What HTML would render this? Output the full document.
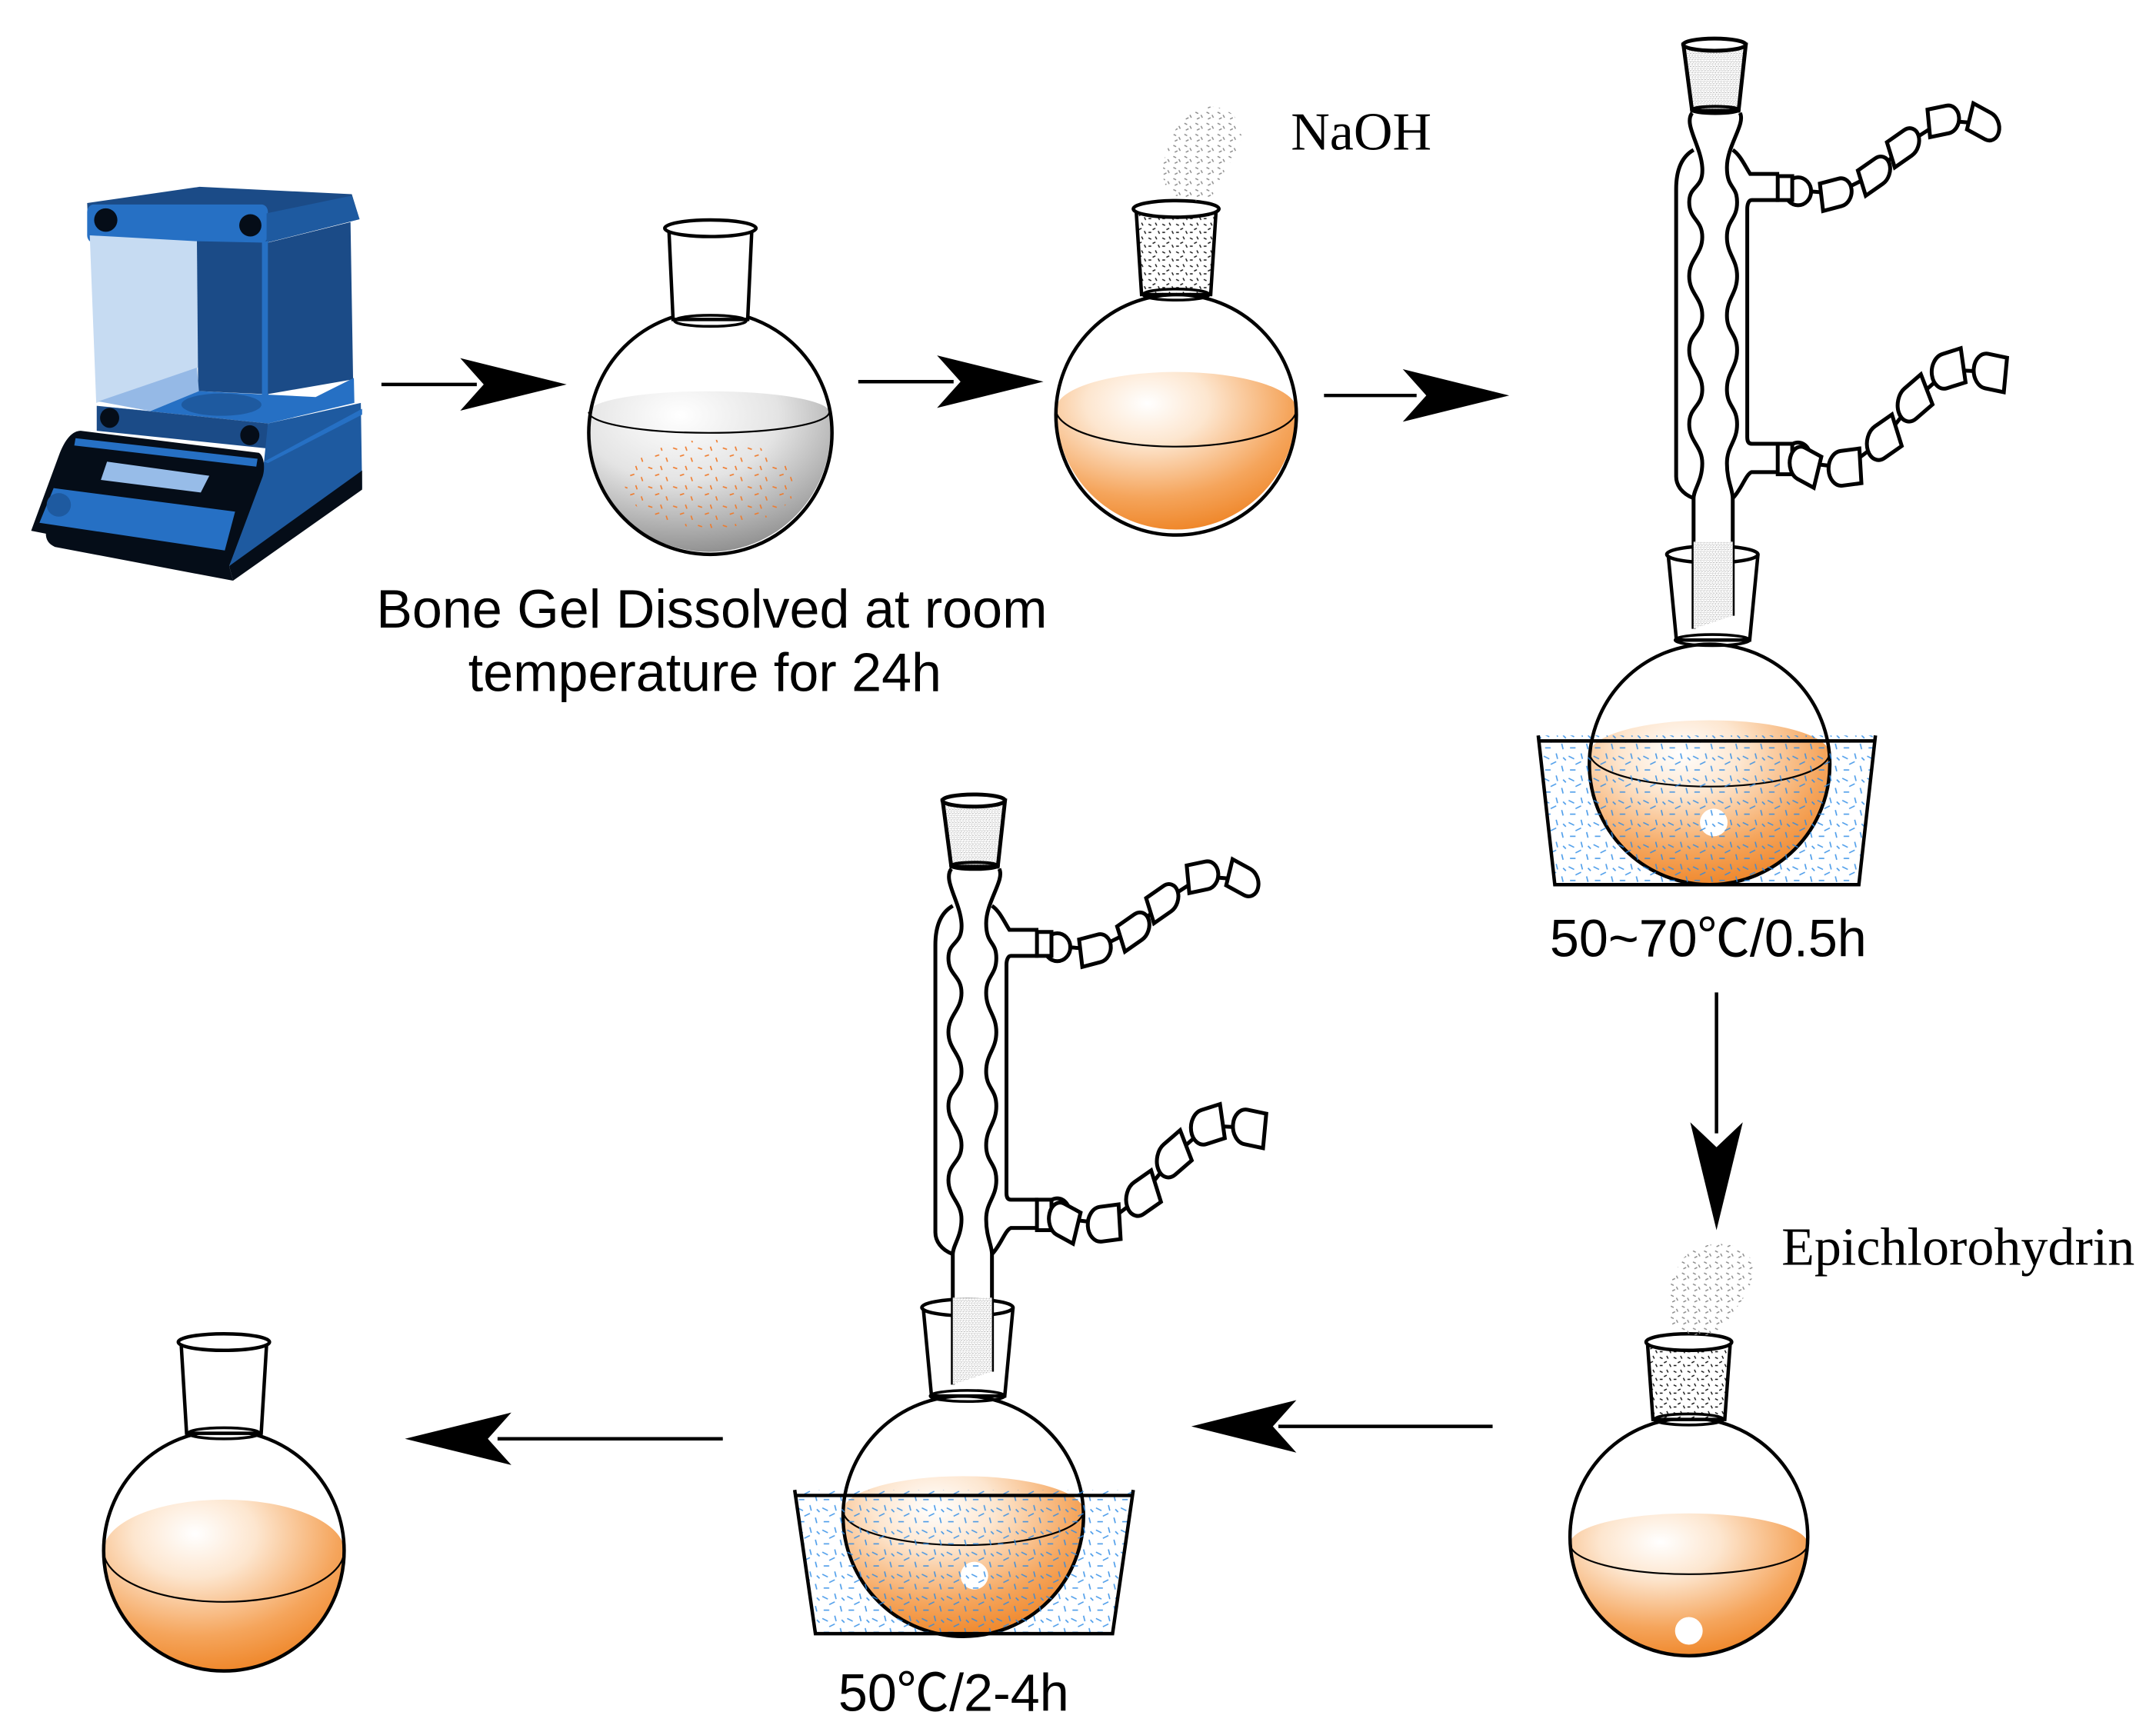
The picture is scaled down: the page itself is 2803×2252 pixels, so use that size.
<!DOCTYPE html>
<html><head><meta charset="utf-8"><style>
html,body{margin:0;padding:0;background:#fff;}
svg{display:block;}
</style></head><body>
<svg width="2803" height="2252" viewBox="0 0 1560 1253" xmlns="http://www.w3.org/2000/svg">
<defs>
<pattern id="cork" width="10" height="10" patternUnits="userSpaceOnUse">
<rect width="10" height="10" fill="#fff"/>
<path d="M1,2 l2,1 M6,1 l1,2 M4,6 l2,-1 M8,7 l1,2 M1,8 l2,0" stroke="#111" stroke-width="0.8"/>
</pattern>
<pattern id="odots" width="18" height="14" patternUnits="userSpaceOnUse">
<path d="M1,2 l3,1 M10,1 l1,3 M6,8 l3,-1 M14,9 l1,3" stroke="#f07a2a" stroke-width="0.9"/>
</pattern>
<pattern id="bdots" width="18" height="16" patternUnits="userSpaceOnUse">
<path d="M1,3 l4,2 M10,1 l1,4 M6,9 l4,-2 M14,10 l1,4 M2,13 l4,0 M15,4 l2,2" stroke="#2b8ae6" stroke-width="0.9"/>
</pattern>
<pattern id="gdots" width="8" height="8" patternUnits="userSpaceOnUse">
<path d="M1,1 l2,1 M5,3 l1,2 M2,6 l2,-1" stroke="#888" stroke-width="0.8"/>
</pattern>
<radialGradient id="og" cx="0.38" cy="0.2" r="0.85">
<stop offset="0" stop-color="#ffffff"/><stop offset="0.3" stop-color="#fde6cf"/>
<stop offset="0.7" stop-color="#f5a55c"/><stop offset="1" stop-color="#ee8222"/>
</radialGradient>
<radialGradient id="gg" cx="0.38" cy="0.15" r="0.9">
<stop offset="0" stop-color="#ffffff"/><stop offset="0.45" stop-color="#e4e4e4"/>
<stop offset="1" stop-color="#8a8a8a"/>
</radialGradient>

<g id="cond" fill="none" stroke="#000">
 <g stroke-width="5">
 <path d="M205,88 L235,240 L395,240 L420,88 Z" fill="url(#cork)" vector-effect="non-scaling-stroke" stroke-width="5"/>
 <ellipse cx="312" cy="88" rx="108" ry="14" fill="#fff" vector-effect="non-scaling-stroke" stroke-width="5"/>
 <ellipse cx="315" cy="238" rx="82" ry="8" vector-effect="non-scaling-stroke" stroke-width="4"/>
 <path d="M235,245 C205,270 265,320 270,370 S225,410 225,450 S270,490 270,530 S225,580 225,620 S270,670 270,710 S225,750 225,790 S270,840 270,880 S225,920 225,960 S270,1010 270,1050 S240,1110 240,1130 L240,1430" vector-effect="non-scaling-stroke" stroke-width="5"/>
 <path d="M400,245 C420,270 355,320 355,370 S390,410 390,450 S355,490 355,530 S390,580 390,620 S355,670 355,710 S390,750 390,790 S355,840 355,880 S390,920 390,960 S355,1010 355,1050 S375,1110 375,1130 L375,1400" vector-effect="non-scaling-stroke" stroke-width="5"/>
 <path d="M240,1230 L375,1230 L375,1400 L240,1430 Z" fill="url(#cork)" stroke="none"/>
 <path d="M240,330 C200,345 180,375 180,420 L180,1080 C180,1100 200,1120 240,1130" vector-effect="non-scaling-stroke" stroke-width="5"/>
 <path d="M375,330 C400,340 420,370 435,385 L535,385" vector-effect="non-scaling-stroke" stroke-width="5"/>
 <path d="M535,445 L440,445 C430,445 425,455 425,465 L425,990 C425,1000 430,1005 440,1005 L535,1005" vector-effect="non-scaling-stroke" stroke-width="5"/>
 <path d="M535,1070 L440,1070 C420,1075 405,1110 375,1130" vector-effect="non-scaling-stroke" stroke-width="5"/>
 <ellipse cx="600" cy="425" rx="45" ry="32" fill="#fff" vector-effect="non-scaling-stroke" stroke-width="5"/>
 <rect x="530" y="390" width="50" height="55" fill="#fff" vector-effect="non-scaling-stroke" stroke-width="5"/>
 <ellipse cx="600" cy="1040" rx="45" ry="38" fill="#fff" vector-effect="non-scaling-stroke" stroke-width="5"/>
 <rect x="530" y="1005" width="50" height="70" fill="#fff" vector-effect="non-scaling-stroke" stroke-width="5"/>
 <polyline points="640,425 730,430 865,385 965,320 1100,262 1240,270" vector-effect="non-scaling-stroke" stroke-width="5"/>
 <polyline points="640,1050 765,1060 895,995 1000,905 1120,835 1265,840" vector-effect="non-scaling-stroke" stroke-width="5"/>
 </g>
 <g fill="#fff" stroke="#000">
 <path transform="translate(730,430) rotate(-10)" d="M-50,-32 L15,-32 A40,32 0 0 1 15,32 L-50,32 Z" vector-effect="non-scaling-stroke" stroke-width="5"/>
 <path transform="translate(865,385) rotate(-25)" d="M-50,-32 L15,-32 A40,32 0 0 1 15,32 L-50,32 Z" vector-effect="non-scaling-stroke" stroke-width="5"/>
 <path transform="translate(965,320) rotate(-25)" d="M-50,-32 L15,-32 A40,32 0 0 1 15,32 L-50,32 Z" vector-effect="non-scaling-stroke" stroke-width="5"/>
 <path transform="translate(1100,262) rotate(-8)" d="M-50,-32 L15,-32 A40,32 0 0 1 15,32 L-50,32 Z" vector-effect="non-scaling-stroke" stroke-width="5"/>
 <path transform="translate(1240,270) rotate(20)" d="M-50,-32 L15,-32 A40,32 0 0 1 15,32 L-50,32 Z" vector-effect="non-scaling-stroke" stroke-width="5"/>
 <path transform="translate(625,1055) rotate(20)" d="M45,-38 L-15,-38 A40,38 0 0 0 -15,38 L45,38 Z" vector-effect="non-scaling-stroke" stroke-width="5"/>
 <path transform="translate(765,1060) rotate(-5)" d="M50,-40 L-15,-40 A45,40 0 0 0 -15,40 L50,40 Z" vector-effect="non-scaling-stroke" stroke-width="5"/>
 <path transform="translate(895,995) rotate(-25)" d="M50,-40 L-15,-40 A45,40 0 0 0 -15,40 L50,40 Z" vector-effect="non-scaling-stroke" stroke-width="5"/>
 <path transform="translate(1000,905) rotate(-30)" d="M50,-40 L-15,-40 A45,40 0 0 0 -15,40 L50,40 Z" vector-effect="non-scaling-stroke" stroke-width="5"/>
 <path transform="translate(1120,835) rotate(-12)" d="M50,-40 L-15,-40 A45,40 0 0 0 -15,40 L50,40 Z" vector-effect="non-scaling-stroke" stroke-width="5"/>
 <path transform="translate(1265,840) rotate(8)" d="M50,-40 L-15,-40 A45,40 0 0 0 -15,40 L50,40 Z" vector-effect="non-scaling-stroke" stroke-width="5"/>
 </g>
</g>
</defs>

<!-- Balance -->
<g transform="translate(0.5,112.7) scale(0.1868,0.2127)">
 <polygon points="335,160 770,105 1360,130 1390,215 1030,295 340,270" fill="#1b4b87"/>
 <rect x="335" y="165" width="700" height="130" rx="25" fill="#2670c4"/>
 <polygon points="1030,195 1360,135 1390,215 1030,295" fill="#1e5aa0"/>
 <polygon points="345,270 760,290 765,720 370,840" fill="#c6dbf2"/>
 <polygon points="760,290 1020,295 1020,810 765,800" fill="#1b4b87"/>
 <rect x="1012" y="290" width="25" height="530" fill="#2670c4"/>
 <polygon points="1035,295 1355,225 1365,760 1035,810" fill="#1b4b87"/>
 <polygon points="378,835 760,720 768,800 580,868" fill="#95b9e6"/>
 <polygon points="580,868 768,800 1035,812 1220,820 1368,755 1370,840 1035,910 372,850" fill="#2670c4"/>
 <ellipse cx="855" cy="846" rx="155" ry="38" fill="#1e5aa0"/>
 <polygon points="372,850 1035,910 1035,995 372,935" fill="#1b4b87"/>
 <polygon points="1035,910 1395,840 1400,1130 885,1395 1020,1040" fill="#1e5aa0"/>
 <polygon points="1020,1040 1400,860 1400,880 1035,1045" fill="#2670c4"/>
 <polygon points="885,1395 1400,1070 1400,1135 900,1445" fill="#050d18"/>
 <path d="M118,1275 L225,1020 C250,960 280,935 310,935 L1000,1010 C1020,1020 1025,1060 1015,1090 L885,1395 L900,1445 L210,1330 C185,1320 175,1305 175,1285 Z" fill="#050d18"/>
 <polygon points="290,960 995,1030 990,1057 285,985" fill="#2670c4"/>
 <polygon points="412,1040 808,1088 775,1145 388,1102" fill="#97bce8"/>
 <polygon points="205,1130 908,1210 868,1342 150,1248" fill="#2670c4"/>
 <ellipse cx="225" cy="1187" rx="47" ry="40" fill="#1e5aa0"/>
 <ellipse cx="407" cy="218" rx="45" ry="40" fill="#050d18"/>
 <ellipse cx="967" cy="236" rx="43" ry="38" fill="#050d18"/>
 <ellipse cx="422" cy="891" rx="37" ry="34" fill="#050d18"/>
 <ellipse cx="965" cy="950" rx="37" ry="34" fill="#050d18"/>
</g>

<!-- Arrows -->
<g fill="#000" stroke="#000" stroke-width="2.5">
 <line x1="276" y1="278" x2="345" y2="278"/><polygon points="410,278 333,259 350,278 333,297" stroke="none"/>
 <line x1="621" y1="276" x2="690" y2="276"/><polygon points="755,276 678,257 695,276 678,295" stroke="none"/>
 <line x1="958" y1="286" x2="1025" y2="286"/><polygon points="1092,286 1015,267 1032,286 1015,305" stroke="none"/>
 <line x1="1242" y1="718" x2="1242" y2="820"/><polygon points="1242,890 1223,812 1242,830 1261,812" stroke="none"/>
 <line x1="1080" y1="1032" x2="925" y2="1032"/><polygon points="862,1032 938,1013 921,1032 938,1051" stroke="none"/>
 <line x1="523" y1="1041" x2="360" y2="1041"/><polygon points="293,1041 370,1022 353,1041 370,1060" stroke="none"/>
</g>

<!-- Flask 1 -->
<g stroke="#000" stroke-width="2.5">
 <path d="M426,298 A86.7,15 0 0 1 600,298 A88,88 0 1 1 426,298 Z" fill="url(#gg)" stroke="none"/>
 <ellipse cx="514" cy="350" rx="62" ry="32" fill="url(#odots)" stroke="none"/>
 <path d="M426,298 A86.7,15 0 0 0 600,298" fill="none" stroke-width="1.2"/>
 <circle cx="514" cy="313" r="88" fill="none"/>
 <path d="M484,166 L487,231 L541,231 L544,166" fill="#fff"/>
 <ellipse cx="514" cy="165" rx="33" ry="6" fill="#fff"/>
 <ellipse cx="514" cy="232" rx="26" ry="4" fill="none" stroke-width="2"/>
</g>

<!-- Flask 2 -->
<g stroke="#000" stroke-width="2.5">
 <path d="M764,296 A87,27 0 0 1 938,296 A87,87 0 1 1 764,296 Z" fill="url(#og)" stroke="none"/>
 <path d="M764,296 A87,27 0 0 0 938,296" fill="none" stroke-width="1.2"/>
 <circle cx="851" cy="300" r="87" fill="none"/>
 <path d="M822,151 L826,213 L876,213 L880,151" fill="url(#cork)"/>
 <ellipse cx="851" cy="151" rx="31" ry="6" fill="#fff"/>
 <ellipse cx="851" cy="213" rx="24" ry="4" fill="none" stroke-width="2"/>
</g>
<path d="M850,95 C860,70 895,72 898,95 C900,110 885,120 878,140 C870,150 845,145 842,130 C840,115 845,108 850,95 Z" fill="url(#gdots)"/>
<text x="934" y="108" font-family="Liberation Serif, serif" font-size="39">NaOH</text>

<!-- Flask 3 with condenser -->
<g stroke="#000" stroke-width="2.5">
 <path d="M1150.4,545 A86.6,24 0 0 1 1323.6,545 A87,87 0 1 1 1150.4,545 Z" fill="url(#og)" stroke="none"/>
 <path d="M1150.4,545 A86.6,24 0 0 0 1323.6,545" fill="none" stroke-width="1.2"/>
 <circle cx="1240" cy="595" r="10" fill="#fff" stroke="none"/>
 <circle cx="1237" cy="553" r="87" fill="none"/>
 <path d="M1207,401 L1213,463 L1266,463 L1272,401" fill="#fff"/>
 <ellipse cx="1239" cy="401" rx="33" ry="6" fill="#fff"/>
 <ellipse cx="1239" cy="463" rx="27" ry="4" fill="none" stroke-width="2"/>
</g>
<use href="#cond" transform="translate(1175,4.4) scale(0.21,0.315)"/>
<path d="M1113,532 L1125,640 L1345,640 L1357,532 Z" fill="url(#bdots)" opacity="0.85"/>
<path d="M1113,532 L1125,640 L1345,640 L1357,532 M1113,536 L1357,536" fill="none" stroke="#000" stroke-width="2.5"/>
<text x="1236" y="692" text-anchor="middle" font-family="Liberation Sans, 'Noto Sans CJK SC', sans-serif" font-size="38">50~70℃/0.5h</text>

<!-- Flask 4 -->
<g stroke="#000" stroke-width="2.5">
 <path d="M1136.1,1117 A85.9,22 0 0 1 1307.9,1117 A86,86 0 0 1 1136.1,1117 Z" fill="url(#og)" stroke="none"/>
 <path d="M1136.1,1117 A85.9,22 0 0 0 1307.9,1117" fill="none" stroke-width="1.2"/>
 <circle cx="1222" cy="1180" r="10" fill="#fff" stroke="none"/>
 <circle cx="1222" cy="1112" r="86" fill="none"/>
 <path d="M1192,971 L1196,1027 L1248,1027 L1252,971" fill="url(#cork)"/>
 <ellipse cx="1222" cy="971" rx="31" ry="6" fill="#fff"/>
 <ellipse cx="1222" cy="1027" rx="25" ry="4" fill="none" stroke-width="2"/>
</g>
<path d="M1215,915 C1225,895 1265,895 1268,915 C1270,935 1255,945 1248,960 C1240,970 1210,968 1207,952 C1205,935 1208,928 1215,915 Z" fill="url(#gdots)"/>
<text x="1289" y="915" font-family="Liberation Serif, serif" font-size="39">Epichlorohydrin</text>

<!-- Flask 5 with condenser -->
<g stroke="#000" stroke-width="2.5">
 <path d="M610.1,1093 A86.9,25 0 0 1 783.9,1093 A87,87 0 1 1 610.1,1093 Z" fill="url(#og)" stroke="none"/>
 <path d="M610.1,1093 A86.9,25 0 0 0 783.9,1093" fill="none" stroke-width="1.2"/>
 <circle cx="705" cy="1140" r="10" fill="#fff" stroke="none"/>
 <circle cx="697" cy="1097" r="87" fill="none"/>
 <path d="M668,946 L674,1010 L727,1010 L733,946" fill="#fff"/>
 <ellipse cx="700" cy="946" rx="33" ry="6" fill="#fff"/>
 <ellipse cx="700" cy="1010" rx="27" ry="4" fill="none" stroke-width="2"/>
</g>
<use href="#cond" transform="translate(639,551.4) scale(0.21,0.315)"/>
<path d="M575,1078 L590,1182 L805,1182 L820,1078 Z" fill="url(#bdots)" opacity="0.85"/>
<path d="M575,1078 L590,1182 L805,1182 L820,1078 M575,1082 L820,1082" fill="none" stroke="#000" stroke-width="2.5"/>
<text x="690" y="1238" text-anchor="middle" font-family="Liberation Sans, 'Noto Sans CJK SC', sans-serif" font-size="38">50℃/2-4h</text>

<!-- Flask 6 -->
<g stroke="#000" stroke-width="2.5">
 <path d="M75,1122 A87,37 0 0 1 249,1122 A87,87 0 1 1 75,1122 Z" fill="url(#og)" stroke="none"/>
 <path d="M75,1122 A87,37 0 0 0 249,1122" fill="none" stroke-width="1.2"/>
 <circle cx="162" cy="1122" r="87" fill="none"/>
 <path d="M131,971 L135,1037 L189,1037 L193,971" fill="#fff"/>
 <ellipse cx="162" cy="971" rx="33" ry="6" fill="#fff"/>
 <ellipse cx="162" cy="1037" rx="26" ry="4" fill="none" stroke-width="2"/>
</g>

<text x="515" y="454" text-anchor="middle" font-family="Liberation Sans, sans-serif" font-size="39">Bone Gel Dissolved at room</text>
<text x="510" y="500" text-anchor="middle" font-family="Liberation Sans, sans-serif" font-size="39">temperature for 24h</text>
</svg>
</body></html>
